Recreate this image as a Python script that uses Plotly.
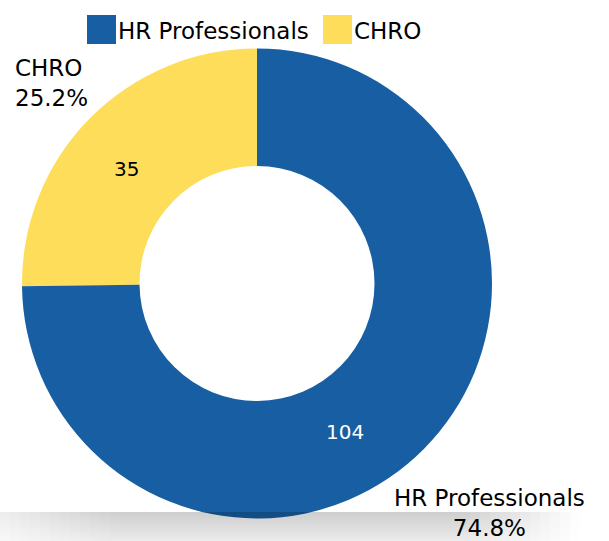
import plotly.graph_objects as go

# ---- data ----
categories = ["HR Professionals", "CHRO"]
counts = [104, 35]
colors = ["#175ea2", "#fedd5b"]
value_text_colors = ["#ffffff", "#000000"]

W, H = 609, 541
FONT = "DejaVu Sans, sans-serif"

def px(x):
    return x / W

def py(y):
    return 1 - y / H

total = sum(counts)
percents = [c / total * 100 for c in counts]

# CHRO slice ends at 12 o'clock, spanning back towards 9 o'clock
order = [1, 0]
rot = -360 * counts[1] / total
fig = go.Figure(go.Pie(
    labels=[categories[i] for i in order],
    values=[counts[i] for i in order],
    marker=dict(colors=[colors[i] for i in order], line=dict(width=0)),
    hole=0.5,
    sort=False,
    direction="clockwise",
    rotation=rot,
    textinfo="none",
    hoverinfo="label+value+percent",
    showlegend=False,
    domain=dict(x=[px(22), px(492)], y=[py(519), py(48)]),
))

annotations = []
shapes = []

# custom legend (large square swatches)
legend_items = [(87, 116), (323, 352)]
for i, (sx, tx) in enumerate(legend_items):
    shapes.append(dict(type="rect", xref="paper", yref="paper",
                       x0=px(sx), x1=px(sx + 29), y0=py(44), y1=py(15),
                       fillcolor=colors[i], line=dict(width=0)))
    annotations.append(dict(text=categories[i], xref="paper", yref="paper",
                            x=px(tx), y=py(31), xanchor="left", yanchor="middle",
                            showarrow=False, font=dict(family=FONT, size=23, color="#000")))

# outside labels
outside_pos = [(489, 513, "center", "center"), (13, 83, "left", "left")]
for i, (ox, oy, xa, al) in enumerate(outside_pos):
    annotations.append(dict(text=f"{categories[i]}<br>{percents[i]:.1f}%",
                            xref="paper", yref="paper", x=px(ox), y=py(oy),
                            xanchor=xa, yanchor="middle", align=al, showarrow=False,
                            font=dict(family=FONT, size=23, color="#000")))

# inside value labels
inside_pos = [(345, 432), (126, 169)]
for i, (ix, iy) in enumerate(inside_pos):
    annotations.append(dict(text=str(counts[i]), xref="paper", yref="paper",
                            x=px(ix), y=py(iy), xanchor="center", yanchor="middle",
                            showarrow=False,
                            font=dict(family=FONT, size=20, color=value_text_colors[i])))

# bottom shadow band (decorative gradient)
y_top = 512
steps = 15
xw = 10
for s in range(steps):
    y0 = y_top + s * 2
    y1 = min(y0 + 2, H)
    base = 0.19 - 0.11 * s / (steps - 1)
    for xa0 in range(0, 600, xw):
        xc = xa0 + xw / 2
        if xc < 120:
            f = 0.35 + 0.65 * xc / 120
        elif xc <= 460:
            f = 1.0
        else:
            f = max(0.0, 1 - (xc - 460) / 120)
        if f <= 0:
            continue
        shapes.append(dict(type="rect", xref="paper", yref="paper", layer="above",
                           x0=px(xa0), x1=px(xa0 + xw), y0=py(y1), y1=py(y0),
                           fillcolor="black", opacity=base * f, line=dict(width=0)))

fig.update_layout(
    width=W, height=H,
    margin=dict(l=0, r=0, t=0, b=0),
    paper_bgcolor="white",
    plot_bgcolor="white",
    font=dict(family=FONT),
    showlegend=False,
    annotations=annotations,
    shapes=shapes,
)

fig.write_html("out.html")
